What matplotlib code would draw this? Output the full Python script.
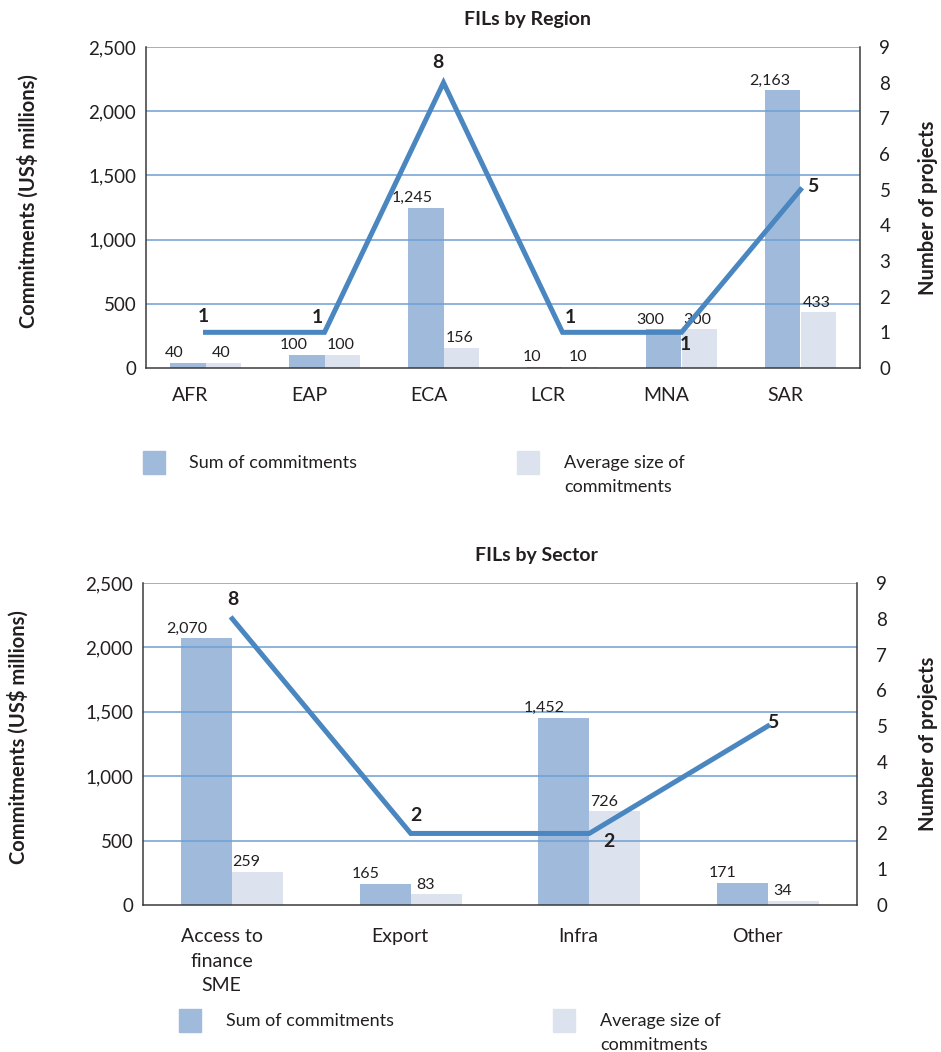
import numpy as np
import matplotlib.pyplot as plt
from matplotlib.patches import Rectangle

plt.rcParams['font.family'] = ['Lato', 'DejaVu Sans']

# data - region panel
regions = ['AFR', 'EAP', 'ECA', 'LCR', 'MNA', 'SAR']
region_sum = [40, 100, 1245, 10, 300, 2163]
region_avg = [40, 100, 156, 10, 300, 433]
region_projects = [1, 1, 8, 1, 1, 5]

# data - sector panel
sectors = ['Access to\nfinance\nSME', 'Export', 'Infra', 'Other']
sector_sum = [2070, 165, 1452, 171]
sector_avg = [259, 83, 726, 34]
sector_projects = [8, 2, 2, 5]

left_ticks = [0, 500, 1000, 1500, 2000, 2500]
right_ticks = list(range(10))

SUM_C = '#a0badb'
AVG_C = '#dce3ef'
LINE_C = '#4a86bf'
GRID_C = '#6f9fd2'
SPINE_C = '#3a3a3a'
TXT_C = '#231f20'

W, H = 941, 1052
fig = plt.figure(figsize=(W / 100, H / 100), dpi=100)


def px(x0, y0, x1, y1):
    return [x0 / W, 1 - y1 / H, (x1 - x0) / W, (y1 - y0) / H]


def draw_panel(rect, cats, sums, avgs, projects, width, sum_dx, avg_dx,
               num_offsets, cat_shift, cat_pad, ylab_x, ylab2_x):
    ax = fig.add_axes(rect)
    x = np.arange(len(cats))
    b1 = ax.bar(x - width / 2, sums, width, color=SUM_C, zorder=1)
    b2 = ax.bar(x + width / 2, avgs, width, color=AVG_C, zorder=1)
    ax.set_xlim(-0.5, len(cats) - 0.5)
    ax.set_ylim(0, 2500)
    ax.set_yticks(left_ticks)
    ax.set_yticklabels([f'{t:,}' for t in left_ticks])
    for t in left_ticks[1:]:
        ax.axhline(t, color=GRID_C, lw=1.1, zorder=2)

    # bar value labels
    for bars, vals, dx in ((b1, sums, sum_dx), (b2, avgs, avg_dx)):
        for r, v in zip(bars, vals):
            ax.annotate(f'{v:,}', (r.get_x() + r.get_width() / 2, r.get_height()),
                        xytext=(dx * 0.72, 2), textcoords='offset points',
                        ha='center', va='bottom', fontsize=11.5, color=TXT_C, zorder=3)

    # category labels sit a little left of the group centre
    ax.set_xticks(x - cat_shift)
    ax.set_xticklabels(cats, fontsize=14, color=TXT_C, linespacing=1.55, va='top')
    ax.tick_params(axis='x', length=0, pad=cat_pad)
    ax.tick_params(axis='y', length=0, pad=7, labelsize=13.5, labelcolor=TXT_C)
    ax.set_ylabel('Commitments (US$ millions)', fontsize=14.5, fontweight='bold',
                  color=TXT_C, va='center')
    ax.yaxis.set_label_coords(ylab_x, 0.52)

    for s in ('left', 'bottom'):
        ax.spines[s].set_color(SPINE_C)
        ax.spines[s].set_linewidth(1.1)
    ax.spines['top'].set_visible(False)
    ax.spines['right'].set_visible(False)

    ax2 = ax.twinx()
    ax2.plot(x, projects, color=LINE_C, lw=3.6, solid_joinstyle='miter', zorder=4)
    ax2.set_ylim(0, 9)
    ax2.set_yticks(right_ticks)
    ax2.tick_params(axis='y', length=0, pad=14, labelsize=13.5, labelcolor=TXT_C)
    ax2.set_ylabel('Number of projects', fontsize=14.5, fontweight='bold',
                   color=TXT_C, va='center', rotation=90)
    ax2.yaxis.set_label_coords(ylab2_x, 0.5)
    for s in ('top', 'left', 'bottom'):
        ax2.spines[s].set_visible(False)
    ax2.spines['right'].set_color(SPINE_C)
    ax2.spines['right'].set_linewidth(1.1)

    for xi, v, (dx, dy) in zip(x, projects, num_offsets):
        ax2.annotate(str(v), (xi, v), xytext=(dx * 0.72, dy * 0.72),
                     textcoords='offset points', ha='center', va='center',
                     fontsize=14, fontweight='bold', color=TXT_C)
    return ax


draw_panel(px(146, 47, 860, 368), regions, region_sum, region_avg, region_projects,
           0.30, -13, -2,
           [(-2, 16), (-7, 15), (-6, 20), (8, 15), (4, -12), (12, 3)],
           0.125, 14, -0.165, 1.095)

draw_panel(px(143, 583, 857, 905), sectors, sector_sum, sector_avg, sector_projects,
           0.285, -20, -11,
           [(1, 19), (5, 18), (20, -8), (5, 4)],
           0.06, 16.5, -0.175, 1.10)

fig.text(527 / W, 1 - 19 / H, 'FILs by Region', ha='center', va='center',
         fontsize=14, fontweight='bold', color=TXT_C)
fig.text(536 / W, 1 - 555 / H, 'FILs by Sector', ha='center', va='center',
         fontsize=14, fontweight='bold', color=TXT_C)


def legend(y0, sq1, tx1, sq2, tx2):
    for sx, col in ((sq1, SUM_C), (sq2, AVG_C)):
        fig.add_artist(Rectangle((sx / W, 1 - (y0 + 23) / H), 22 / W, 23 / H,
                                 transform=fig.transFigure, color=col))
    yc = y0 + 12
    fig.text(tx1 / W, 1 - yc / H, 'Sum of commitments', ha='left', va='center',
             fontsize=13, color=TXT_C)
    fig.text(tx2 / W, 1 - yc / H, 'Average size of', ha='left', va='center',
             fontsize=13, color=TXT_C)
    fig.text(tx2 / W, 1 - (yc + 24) / H, 'commitments', ha='left', va='center',
             fontsize=13, color=TXT_C)


legend(451, 143, 189, 517, 564)
legend(1009, 179, 226, 553, 600)

fig.savefig('out.png', dpi=100)
